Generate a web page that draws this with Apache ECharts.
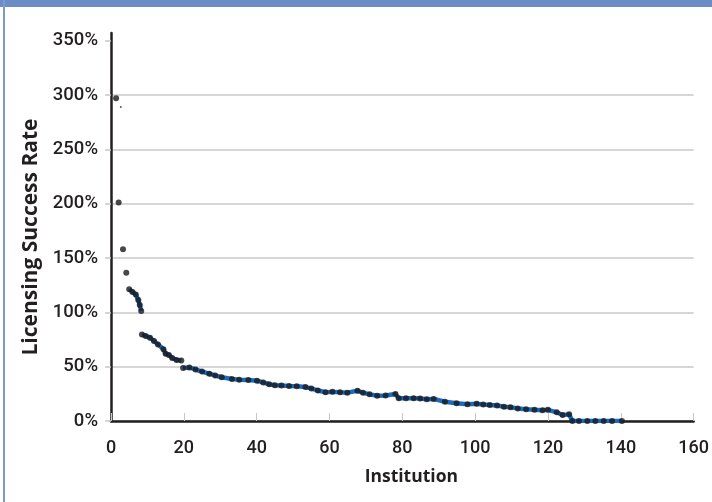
<!DOCTYPE html>
<html>
<head>
<meta charset="utf-8">
<script src="https://cdn.jsdelivr.net/npm/echarts@6/dist/echarts.min.js"></script>
<style>
  html, body { margin: 0; padding: 0; background: #ffffff; }
  #wrap { position: relative; width: 712px; height: 502px; overflow: hidden; background: #fff; }
  #topband { position: absolute; left: 0; top: 0; width: 712px; height: 7px; background: #6a8dc6; }
  #leftline { position: absolute; left: 3px; top: 0; width: 2px; height: 502px; background: #7b9bd0; }
  #chart { position: absolute; left: 0; top: 0; width: 712px; height: 502px; }
</style>
</head>
<body>
<div id="wrap">
  <div id="chart"></div>
  <div id="topband"></div>
  <div id="leftline"></div>
</div>
<script>
// Institution number (x) and licensing success rate in % (y)
const institutionNo = [
  1.4, 2.1, 3.3, 4.2, 5.0, 5.9, 6.8, 7.5, 7.9, 8.3,
  8.5, 9.5, 10.7, 11.8, 12.9, 14.4, 15.0, 15.9, 16.8, 18.0,
  19.3, 19.8, 21.5, 23.2, 25.0, 27.0, 28.6, 30.4, 33.2, 35.2,
  37.7, 40.1, 41.8, 43.4, 45.0, 46.8, 48.9, 51.0, 53.4, 55.0,
  56.8, 58.9, 60.8, 62.9, 64.9, 67.7, 69.2, 71.0, 73.1, 75.4,
  78.1, 79.0, 81.0, 83.1, 84.9, 86.7, 88.6, 91.7, 94.9, 97.9,
  100.4, 102.2, 104.0, 106.0, 107.9, 109.7, 111.7, 114.0, 116.3, 118.5,
  120.0, 122.4, 124.0, 125.8, 126.7, 128.5, 130.8, 133.0, 135.3, 137.6,
  140.3
];
const successRate = [
  297, 201, 158, 136.4, 121.3, 118.8, 116.4, 111.3, 106.7, 101.3,
  79.5, 78.3, 76.7, 73.6, 70.5, 66.1, 61.8, 60.8, 58.0, 56.2,
  55.6, 48.7, 49.3, 47.4, 45.5, 43.5, 41.9, 40.3, 38.7, 38.0,
  37.7, 37.0, 35.5, 33.8, 32.9, 32.6, 32.2, 31.9, 31.2, 30.0,
  28.0, 26.4, 26.8, 26.4, 26.1, 27.8, 26.1, 24.5, 23.2, 23.5,
  24.9, 21.0, 21.0, 21.0, 20.6, 20.0, 20.3, 17.7, 16.4, 15.5,
  15.8, 15.2, 14.8, 14.2, 13.2, 12.6, 11.6, 10.9, 10.3, 10.0,
  10.3, 8.0, 5.5, 6.1, 0, 0, 0, 0, 0, 0,
  0
];
// faint stray mark near the top
const strayNo = [2.7];
const strayRate = [289];

const xTicks = [0, 20, 40, 60, 80, 100, 120, 140, 160];
const yTicks = [0, 50, 100, 150, 200, 250, 300, 350];

const points = institutionNo.map((x, i) => [x, successRate[i]]);
// blue connecting line, broken where the curve jumps steeply
const linePts = [];
points.forEach((p, i) => {
  if (i > 0 && Math.abs(p[1] - points[i - 1][1]) > 6.5) {
    linePts.push([(p[0] + points[i - 1][0]) / 2, null]);
  }
  linePts.push(p);
});
const stray = strayNo.map((x, i) => [x, strayRate[i]]);

const LABEL_FONT = 'Roboto';
const TITLE_FONT = 'Open Sans';
const chart = echarts.init(document.getElementById('chart'), null, { renderer: 'canvas' });
chart.setOption({
  animation: false,
  backgroundColor: 'transparent',
  grid: { left: 111, right: 13, top: 33, bottom: 81, containLabel: false },
  xAxis: {
    type: 'value',
    min: xTicks[0], max: xTicks[xTicks.length - 1], interval: 20,
    name: 'Institution',
    nameLocation: 'middle',
    nameGap: 47,
    nameTextStyle: { fontFamily: TITLE_FONT, fontWeight: 'bold', fontSize: 17.5, color: '#231f20', padding: [0, 0, 0, 18] },
    axisLine: { show: true, onZero: false, lineStyle: { color: '#231f20', width: 2.5 } },
    axisTick: { show: true, inside: true, length: 8, lineStyle: { color: '#c8c8c8', width: 1 } },
    axisLabel: { fontFamily: LABEL_FONT, fontWeight: 500, fontSize: 18, color: '#231f20', margin: 18 },
    splitLine: { show: false }
  },
  yAxis: {
    type: 'value',
    min: yTicks[0], max: 357, interval: 50,
    name: 'Licensing Success Rate',
    nameLocation: 'middle',
    nameGap: 68,
    nameRotate: 90,
    nameTextStyle: { fontFamily: TITLE_FONT, fontWeight: 'bold', fontSize: 21, color: '#231f20', padding: [0, 20, 0, 0] },
    axisLine: { show: true, lineStyle: { color: '#231f20', width: 2.5 } },
    axisTick: { show: true, length: 6, customValues: yTicks, lineStyle: { color: '#c8c8c8', width: 1.5 } },
    axisLabel: {
      fontFamily: LABEL_FONT, fontWeight: 500, fontSize: 18.5, color: '#231f20', margin: 13,
      customValues: yTicks,
      formatter: v => v + '%'
    },
    splitLine: { show: true, showMaxLine: false, lineStyle: { color: '#c8c8c8', width: 1.5 } }
  },
  series: [
    {
      type: 'line',
      data: linePts,
      showSymbol: false,
      connectNulls: false,
      lineStyle: { color: '#1b6cc0', width: 4.5 },
      z: 2,
      silent: true
    },
    {
      type: 'scatter',
      data: points,
      symbol: 'circle',
      symbolSize: 6,
      itemStyle: { color: '#1a1a1d' },
      z: 3
    },
    {
      type: 'scatter',
      data: stray,
      symbol: 'circle',
      symbolSize: 2,
      itemStyle: { color: '#333' },
      z: 3
    }
  ]
});
</script>
</body>
</html>
